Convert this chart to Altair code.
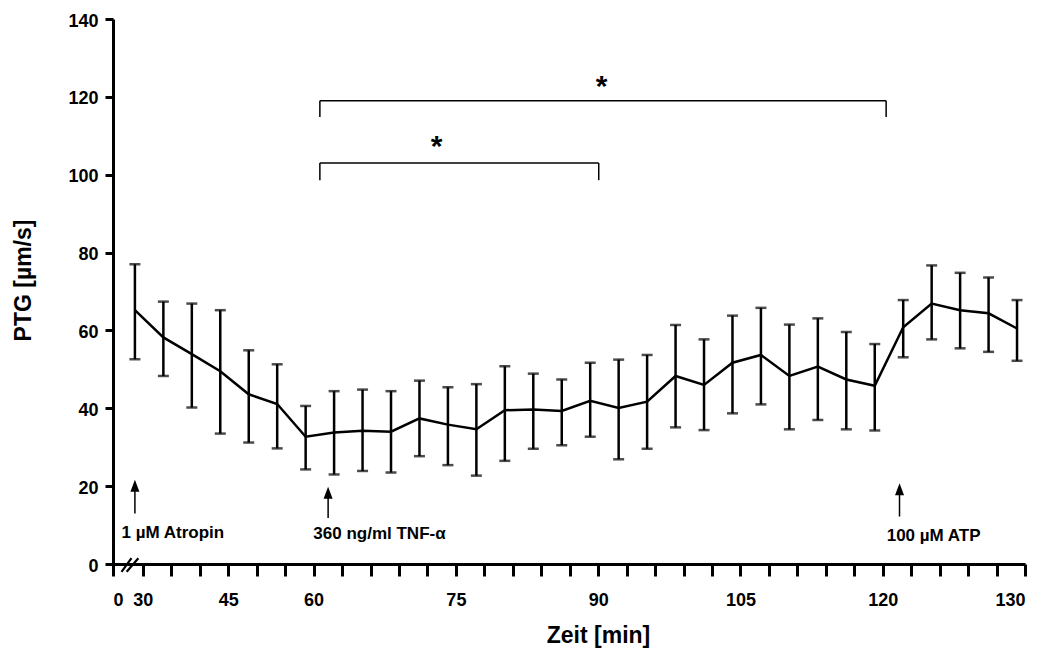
import altair as alt
import pandas as pd

FONT = "Liberation Sans"

# Sampling times [min]: every 5 min under atropine, every 3 min after TNF-alpha,
# every 2 min after ATP
time_min = [30, 35, 40, 45, 50, 55, 60,
            63, 66, 69, 72, 75, 78, 81, 84, 87, 90, 93, 96, 99,
            102, 105, 108, 111, 114, 117, 120,
            122, 124, 126, 128, 130]

# Particle transport velocity [µm/s]: mean with upper / lower end of the error bar
ptg_mean = [65.2, 58.2, 53.9, 49.5, 43.6, 41.1, 32.7,
            33.8, 34.2, 34.0, 37.4, 35.8, 34.6, 39.5, 39.7, 39.3, 41.9, 40.1, 41.7, 48.3,
            46.0, 51.7, 53.7, 48.3, 50.7, 47.4, 45.8,
            60.8, 66.9, 65.2, 64.4, 60.5]
ptg_upper = [77.0, 67.4, 66.9, 65.2, 54.9, 51.3, 40.6,
             44.4, 44.8, 44.4, 47.1, 45.4, 46.2, 50.8, 48.9, 47.4, 51.7, 52.5, 53.7, 61.4,
             57.7, 63.8, 65.8, 61.5, 63.1, 59.6, 56.5,
             67.8, 76.7, 74.8, 73.6, 67.8]
ptg_lower = [52.6, 48.3, 40.2, 33.5, 31.2, 29.7, 24.3,
             23.0, 23.9, 23.5, 27.7, 25.4, 22.7, 26.5, 29.6, 30.5, 32.7, 26.9, 29.6, 35.1,
             34.4, 38.7, 41.0, 34.6, 37.0, 34.6, 34.3,
             53.1, 57.7, 55.4, 54.5, 52.2]

# Times that get a label on the category axis ("0" sits at the axis origin)
labelled_times = [30, 45, 60, 75, 90, 105, 120, 130]
y_ticks = [0, 20, 40, 60, 80, 100, 120, 140]

# Substance additions: arrow position (category units), arrow tip / tail, label
drug_labels = ["1 µM Atropin", "360 ng/ml TNF-α", "100 µM ATP"]
drug_arrow_x = [0.0, 6.79, 26.87]
drug_arrow_tip = [21.6, 19.8, 20.7]
drug_arrow_tail = [13.0, 11.8, 12.2]
drug_text_x = [-0.47, 6.27, 26.42]
drug_text_y = [8.0, 7.6, 7.2]

# Significance brackets (category units / µm/s)
bracket_start = [6.5, 6.5]
bracket_end = [16.3, 26.4]
bracket_top = [103.0, 119.0]
bracket_leg = [98.6, 114.8]
star_x = [10.6, 16.4]
star_y = [107.1, 122.5]

# Axis break "//" near the origin
break_x0 = [-0.47, -0.29]
break_x1 = [-0.12, 0.12]
break_y0 = [-2.0, -2.0]
break_y1 = [1.5, 1.5]

# category axis geometry: ticks sit slightly right of each sample
TICK_SHIFT = 0.28
n = len(time_min)
X_MIN = -0.77
X_MAX = (n - 1) + TICK_SHIFT

df = pd.DataFrame({
    "pos": list(range(n)),
    "time": time_min,
    "mean": ptg_mean,
    "hi": ptg_upper,
    "lo": ptg_lower,
})

tick_values = [X_MIN] + [i + TICK_SHIFT for i in range(n)]
tick_text = ["0"] + [str(t) if t in labelled_times else "" for t in time_min]
label_array = "[" + ",".join(f"'{s}'" for s in tick_text) + "]"
label_expr = f"{label_array}[round(datum.value - {TICK_SHIFT}) + 1]"

xscale = alt.Scale(domain=[X_MIN, X_MAX], nice=False, zero=False)
yscale = alt.Scale(domain=[0, 140], nice=False)

x_axis = alt.Axis(
    values=tick_values, tickCount=60, labelExpr=label_expr, labelOverlap=False,
    grid=False, domainColor="black", domainWidth=3, tickColor="black",
    tickWidth=3, tickSize=12, labelFont=FONT, labelFontSize=18,
    labelFontWeight="bold", labelColor="black", labelPadding=15,
    title="Zeit [min]", titleFont=FONT, titleFontSize=23, titleFontWeight="bold",
    titleColor="black", titleX=485, titleY=71, titleAlign="center",
    titleBaseline="middle",
)
y_axis = alt.Axis(
    values=y_ticks, grid=False, domainColor="black", domainWidth=3,
    tickColor="black", tickWidth=3, tickSize=8, labelFont=FONT,
    labelFontSize=18, labelFontWeight="bold", labelColor="black",
    labelPadding=7, labelOffset=2,
    title="PTG [µm/s]", titleFont=FONT, titleFontSize=23, titleFontWeight="bold",
    titleColor="black", titleX=-90, titleY=261, titleAngle=270,
    titleAlign="center", titleBaseline="middle",
)

base = alt.Chart(df)

line = base.mark_line(color="black", strokeWidth=2.5).encode(
    x=alt.X("pos:Q", scale=xscale, axis=x_axis),
    y=alt.Y("mean:Q", scale=yscale, axis=y_axis),
)

errbars = base.mark_errorbar(ticks=True, size=11, thickness=2.5, color="black").encode(
    x=alt.X("pos:Q", scale=xscale, axis=x_axis),
    y=alt.Y("lo:Q", scale=yscale, axis=y_axis),
    y2="hi:Q",
)

drugs = pd.DataFrame({
    "label": drug_labels, "ax": drug_arrow_x, "tip": drug_arrow_tip,
    "tail": drug_arrow_tail, "tx": drug_text_x, "ty": drug_text_y,
})
drugs["head_mid"] = drugs["tip"] - 1.5
drugs["head_base"] = drugs["tip"] - 2.5

arrow_shaft = alt.Chart(drugs).mark_rule(color="black", strokeWidth=1.5).encode(
    x=alt.X("ax:Q", scale=xscale), y=alt.Y("tail:Q", scale=yscale), y2="head_base:Q"
)
arrow_head = alt.Chart(drugs).mark_point(
    shape="M0,-1L0.75,1L-0.75,1Z", size=144, filled=True, opacity=1,
    color="black", strokeWidth=0,
).encode(x=alt.X("ax:Q", scale=xscale), y=alt.Y("head_mid:Q", scale=yscale))
drug_text = alt.Chart(drugs).mark_text(
    align="left", baseline="middle", font=FONT, fontSize=17,
    fontWeight="bold", color="black",
).encode(x=alt.X("tx:Q", scale=xscale), y=alt.Y("ty:Q", scale=yscale), text="label:N")

br = pd.DataFrame({
    "x0": bracket_start, "x1": bracket_end, "top": bracket_top,
    "leg": bracket_leg, "sx": star_x, "sy": star_y,
})
br_h = alt.Chart(br).mark_rule(color="black", strokeWidth=1.5).encode(
    x=alt.X("x0:Q", scale=xscale), x2="x1:Q", y=alt.Y("top:Q", scale=yscale)
)
br_l = alt.Chart(br).mark_rule(color="black", strokeWidth=1.5).encode(
    x=alt.X("x0:Q", scale=xscale), y=alt.Y("leg:Q", scale=yscale), y2="top:Q"
)
br_r = alt.Chart(br).mark_rule(color="black", strokeWidth=1.5).encode(
    x=alt.X("x1:Q", scale=xscale), y=alt.Y("leg:Q", scale=yscale), y2="top:Q"
)
stars = alt.Chart(br).mark_text(
    text="*", align="center", baseline="middle", font=FONT, fontSize=30,
    fontWeight="bold", color="black",
).encode(x=alt.X("sx:Q", scale=xscale), y=alt.Y("sy:Q", scale=yscale))

brk = pd.DataFrame({"x0": break_x0, "x1": break_x1, "y0": break_y0, "y1": break_y1})
axis_break = alt.Chart(brk).mark_rule(color="black", strokeWidth=2.2).encode(
    x=alt.X("x0:Q", scale=xscale), x2="x1:Q",
    y=alt.Y("y0:Q", scale=yscale), y2="y1:Q",
)

chart = alt.layer(
    line, errbars, arrow_shaft, arrow_head, drug_text,
    br_h, br_l, br_r, stars, axis_break,
).properties(
    width=912, height=545,
    padding={"left": 113, "top": 19, "right": 17, "bottom": 90},
    autosize=alt.AutoSizeParams(type="none"),
    background="white",
).configure_view(stroke=None)

chart.save("out.html", embed_options={"renderer": "svg", "actions": False})
